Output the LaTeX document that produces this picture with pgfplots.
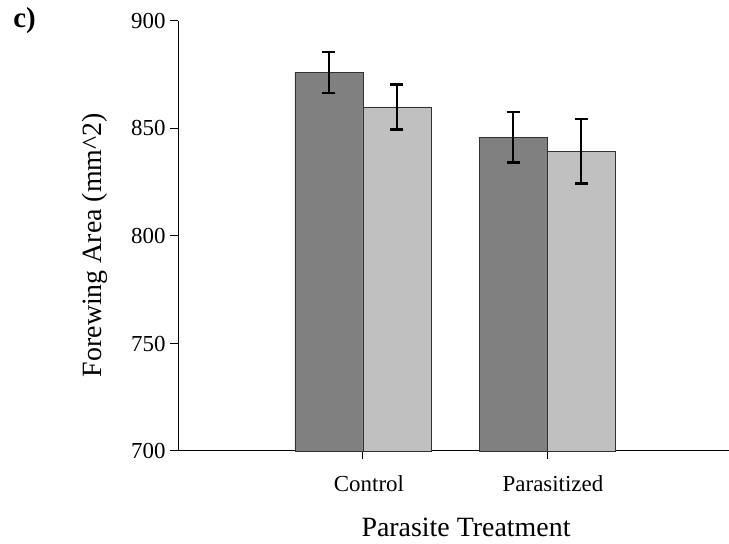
\documentclass[border=0pt]{standalone}
\usepackage{pgfplots}
\pgfplotsset{compat=1.18}
\usepackage{fontspec}
\setmainfont{Liberation Serif}
\definecolor{darkbar}{RGB}{128,128,128}
\definecolor{lightbar}{RGB}{192,192,192}
\definecolor{edge}{RGB}{50,50,50}
\begin{document}
\begin{tikzpicture}[x=1bp,y=1bp]
\useasboundingbox (0,0) rectangle (729,544);
\node[anchor=center,font=\fontsize{29}{32}\selectfont\bfseries] at (24.5,523) {c)};
\begin{axis}[
  at={(178bp,93bp)}, anchor=south west,
  scale only axis, width=551bp, height=430bp,
  xmin=-1.005, xmax=1.989, ymin=700, ymax=900,
  axis x line*=bottom, axis y line*=left,
  axis line style={black, line width=1pt, -},
  ytick={700,750,800,850,900},
  xtick={0,1}, xticklabels={Control,Parasitized},
  tick align=outside, major tick length=8bp,
  tick style={black, line width=1pt},
  /pgf/number format/assume math mode=true,
  ticklabel style={font=\fontsize{23}{26}\selectfont},
  yticklabel style={xshift=-1bp},
  xticklabel style={yshift=-13bp, xshift=6bp},
  xlabel={Parasite Treatment},
  ylabel={Forewing Area (mm\^{}2)},
  every axis x label/.style={at={(axis description cs:0.5227,-0.1977)}, anchor=base, inner sep=0pt, font=\fontsize{28}{32}\selectfont},
  every axis y label/.style={at={(axis description cs:-0.138,0.479)}, anchor=base, rotate=90, font=\fontsize{28}{32}\selectfont},
  ybar=0pt, bar width=68bp,
  clip=false,
]
\addplot[fill=darkbar, draw=edge, line width=0.8pt,
  error bars/.cd, y dir=both, y explicit,
  error bar style={black, line width=2.6pt},
  error mark options={black, line width=2.6pt, mark size=6.5bp, rotate=90}]
  coordinates {(0,876) +- (0,9.5) (1,846) +- (0,11.7)};
\addplot[fill=lightbar, draw=edge, line width=0.8pt,
  error bars/.cd, y dir=both, y explicit,
  error bar style={black, line width=2.6pt},
  error mark options={black, line width=2.6pt, mark size=6.5bp, rotate=90}]
  coordinates {(0,860) +- (0,10.5) (1,839.5) +- (0,15)};
\end{axis}
\end{tikzpicture}
\end{document}
